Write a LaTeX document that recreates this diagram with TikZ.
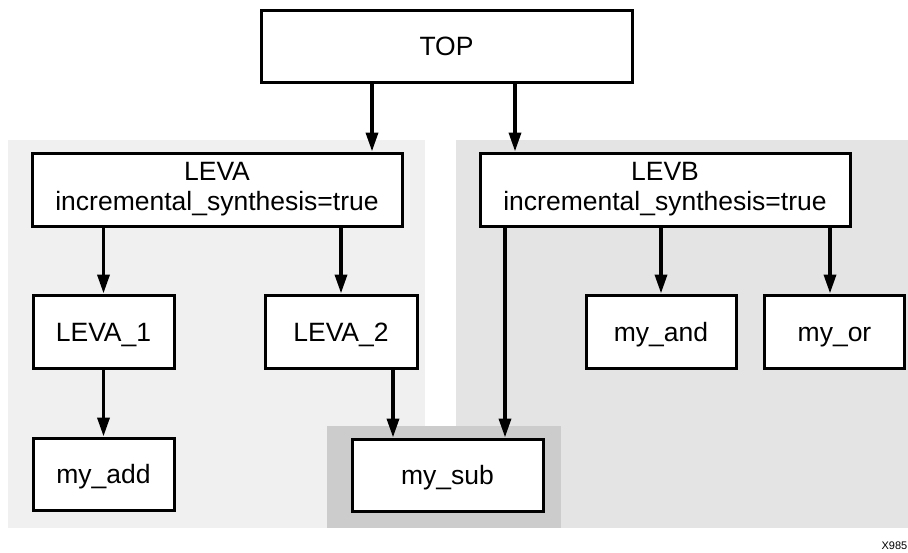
\documentclass[tikz,border=0pt]{standalone}
\usepackage{fontspec}
\setmainfont{Liberation Sans}
\usetikzlibrary{arrows.meta}
\definecolor{regA}{HTML}{F0F0F0}
\definecolor{regB}{HTML}{E4E4E4}
\definecolor{regS}{HTML}{CCCCCC}
\tikzset{
  blk/.style={draw=black, fill=white, line width=3pt, inner sep=0pt,
    font=\fontsize{26.5}{30}\selectfont, align=center},
  one/.style={text height=19pt, text depth=0pt},
  arr/.style={line width=3.5pt, -{Triangle[length=19pt,width=12pt]}},
}
\begin{document}
\begin{tikzpicture}[x=1pt,y=-1pt]
\useasboundingbox (0,0) rectangle (908,552);
% background regions
\fill[regA] (8,140) rectangle (425,528);
\fill[regB] (456,140) rectangle (908,528);
\fill[regS] (327,426) rectangle (561,528);
% boxes
\node[blk, one, minimum width=371pt, minimum height=72pt] (top) at (446.5,46) {TOP};
\node[blk, minimum width=370pt, minimum height=73pt] (leva) at (217,189.5) {LEVA\\incremental\_synthesis=true};
\node[blk, minimum width=370pt, minimum height=73pt] (levb) at (665,189.5) {LEVB\\incremental\_synthesis=true};
\node[blk, one, minimum width=141pt, minimum height=73pt] (leva1) at (103.5,331.5) {LEVA\_1};
\node[blk, one, minimum width=152pt, minimum height=73pt] (leva2) at (341,331.5) {LEVA\_2};
\node[blk, one, minimum width=150pt, minimum height=73pt] (myand) at (661,331.5) {my\_and};
\node[blk, one, minimum width=140pt, minimum height=73pt] (myor) at (834.5,331.5) {my\_or};
\node[blk, one, minimum width=141pt, minimum height=72pt] (myadd) at (103.5,474) {my\_add};
\node[blk, one, minimum width=191pt, minimum height=72pt] (mysub) at (447.5,475) {my\_sub};
% x positions of connectors
\coordinate (xa) at (372,0);
\coordinate (xb) at (515,0);
\coordinate (xs1) at (393,0);
\coordinate (xs2) at (505,0);
\coordinate (xo) at (830,0);
% connectors
\draw[arr] (top.south -| xa) -- (leva.north -| xa);
\draw[arr] (top.south -| xb) -- (levb.north -| xb);
\draw[arr] (leva.south -| leva1.north) -- (leva1.north);
\draw[arr] (leva.south -| leva2.north) -- (leva2.north);
\draw[arr] (leva1.south) -- (myadd.north);
\draw[arr] (leva2.south -| xs1) -- (mysub.north -| xs1);
\draw[arr] (levb.south -| xs2) -- (mysub.north -| xs2);
\draw[arr] (levb.south -| myand.north) -- (myand.north);
\draw[arr] (levb.south -| xo) -- (myor.north -| xo);
% figure id
\node[anchor=base east, inner sep=0pt, font=\fontsize{11}{13}\selectfont] (fid) at (907.5,549) {X985};
\end{tikzpicture}
\end{document}
